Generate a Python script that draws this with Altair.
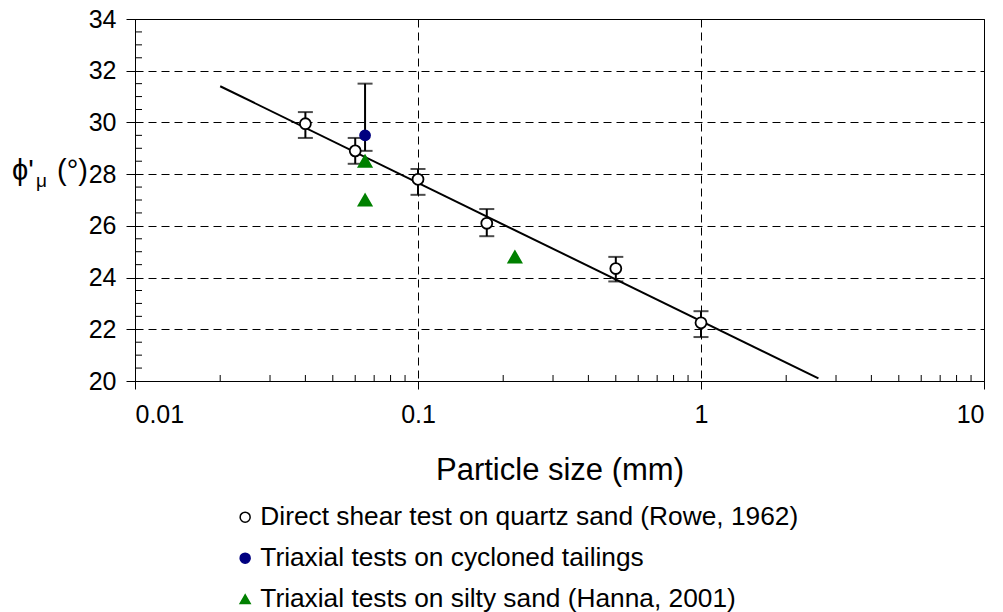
import altair as alt
import pandas as pd

# Direct shear tests on quartz sand (Rowe, 1962): mean and range
rowe_size = [0.04, 0.06, 0.1, 0.175, 0.5, 1.0]
rowe_phi = [29.95, 28.9, 27.8, 26.1, 24.35, 22.25]
rowe_lo = [29.4, 28.4, 27.2, 25.6, 23.85, 21.7]
rowe_hi = [30.4, 29.4, 28.2, 26.65, 24.8, 22.7]

# Triaxial tests on cycloned tailings
tail_size = [0.065]
tail_phi = [29.5]
tail_lo = [28.9]
tail_hi = [31.5]

# Triaxial tests on silty sand (Hanna, 2001)
hanna_size = [0.065, 0.065, 0.22]
hanna_phi = [28.5, 27.0, 24.8]

# Fitted trend line
trend_size = [0.02, 2.6]
trend_phi = [31.4, 20.1]

series_names = [
    "Direct shear test on quartz sand (Rowe, 1962)",
    "Triaxial tests on cycloned tailings",
    "Triaxial tests on silty sand (Hanna, 2001)",
]
series_shapes = ["circle", "circle", "triangle-up"]
series_fill = ["white", "#000080", "#008000"]
series_stroke = ["black", "#000080", "#008000"]

y_major = [20, 22, 24, 26, 28, 30, 32, 34]
y_minor = [v / 2 for v in range(41, 68) if v % 4 != 0]
x_major = [0.01, 0.1, 1, 10]
x_minor = [m * d for d in (0.01, 0.1, 1) for m in range(2, 10)]

FONT = "Liberation Sans"
W, H = 849, 362

points = pd.DataFrame({
    "d": rowe_size + tail_size + hanna_size,
    "phi": rowe_phi + tail_phi + hanna_phi,
    "series": [series_names[0]] * len(rowe_size)
    + [series_names[1]] * len(tail_size)
    + [series_names[2]] * len(hanna_size),
})
bars = pd.DataFrame({
    "d": rowe_size + tail_size,
    "lo": rowe_lo + tail_lo,
    "hi": rowe_hi + tail_hi,
})
caps = pd.DataFrame({
    "d": bars["d"].tolist() * 2,
    "phi": bars["lo"].tolist() + bars["hi"].tolist(),
})
trend = pd.DataFrame({"d": trend_size, "phi": trend_phi})

x_scale = alt.Scale(type="log", domain=[0.01, 10], nice=False)
y_scale = alt.Scale(domain=[20, 34], nice=False, zero=False)

x_axis = alt.Axis(
    values=x_major, format="~g", title="Particle size (mm)",
    tickSize=8, labelPadding=13, labelFontSize=25, titleFontSize=31,
    titlePadding=28, titleFontWeight="normal",
    grid=True, gridDash=[8, 5], gridColor="black", gridWidth=1,
)
y_axis = alt.Axis(
    values=y_major, title=None, tickSize=9, labelPadding=10,
    labelFontSize=25, grid=True, gridDash=[8, 5], gridColor="black",
    gridWidth=1,
)

X = alt.X("d:Q", scale=x_scale, axis=x_axis)
Y = alt.Y("phi:Q", scale=y_scale, axis=y_axis)

line = alt.Chart(trend).mark_line(color="black", strokeWidth=2).encode(x=X, y=Y)

err = alt.Chart(bars).mark_rule(color="black", strokeWidth=2).encode(
    x=X, y=alt.Y("lo:Q", scale=y_scale, axis=y_axis), y2="hi:Q"
)
cap = alt.Chart(caps).mark_tick(
    color="black", orient="horizontal", size=15, thickness=2
).encode(x=X, y=Y)

legend = alt.Legend(
    title=None, orient="none", legendX=97, legendY=485,
    labelFontSize=26.3, labelLimit=1000, labelOffset=2,
    symbolSize=100, symbolStrokeWidth=1.5, rowPadding=14,
)

marker_size = (
    alt.when(alt.datum.series == series_names[2]).then(alt.value(170))
    .when(alt.datum.series == series_names[1]).then(alt.value(100))
    .otherwise(alt.value(120))
)

pts = alt.Chart(points).mark_point(opacity=1, strokeWidth=1.8).encode(
    x=X, y=Y,
    shape=alt.Shape("series:N", scale=alt.Scale(domain=series_names, range=series_shapes), legend=legend),
    fill=alt.Fill("series:N", scale=alt.Scale(domain=series_names, range=series_fill), legend=legend),
    stroke=alt.Stroke("series:N", scale=alt.Scale(domain=series_names, range=series_stroke), legend=legend),
    size=marker_size,
)

# minor ticks drawn inside the frame
xminor = alt.Chart(pd.DataFrame({"d": x_minor})).mark_rule(
    color="black", strokeWidth=1
).encode(x=X, y=alt.value(H), y2=alt.value(H - 6))
yminor = alt.Chart(pd.DataFrame({"phi": y_minor})).mark_rule(
    color="black", strokeWidth=1
).encode(y=Y, x=alt.value(0), x2=alt.value(7))

# y-axis title with a subscript mu
t_phi = alt.Chart(pd.DataFrame({"t": ["\u03d5'"]})).mark_text(
    font=FONT, fontSize=29, align="left", baseline="alphabetic", color="black"
).encode(text="t:N", x=alt.value(-123), y=alt.value(161))
t_mu = alt.Chart(pd.DataFrame({"t": ["\u03bc"]})).mark_text(
    font=FONT, fontSize=19, align="left", baseline="alphabetic", color="black"
).encode(text="t:N", x=alt.value(-99), y=alt.value(168))
t_deg = alt.Chart(pd.DataFrame({"t": ["(\u00b0)"]})).mark_text(
    font=FONT, fontSize=29, align="left", baseline="alphabetic", color="black"
).encode(text="t:N", x=alt.value(-78), y=alt.value(161))

chart = alt.layer(
    xminor, yminor, line, err, cap, pts, t_phi, t_mu, t_deg
).properties(
    width=W, height=H,
    autosize=alt.AutoSizeParams(type="none"),
    padding={"left": 135, "top": 19, "right": 19, "bottom": 231},
).configure(
    font=FONT,
).configure_view(
    stroke="black", strokeWidth=1,
).configure_axis(
    domainColor="black", tickColor="black", labelColor="black",
    titleColor="black", labelFont=FONT, titleFont=FONT,
).configure_legend(
    labelFont=FONT, labelColor="black",
)

chart.save("out.html", embed_options={"renderer": "svg", "actions": False})
